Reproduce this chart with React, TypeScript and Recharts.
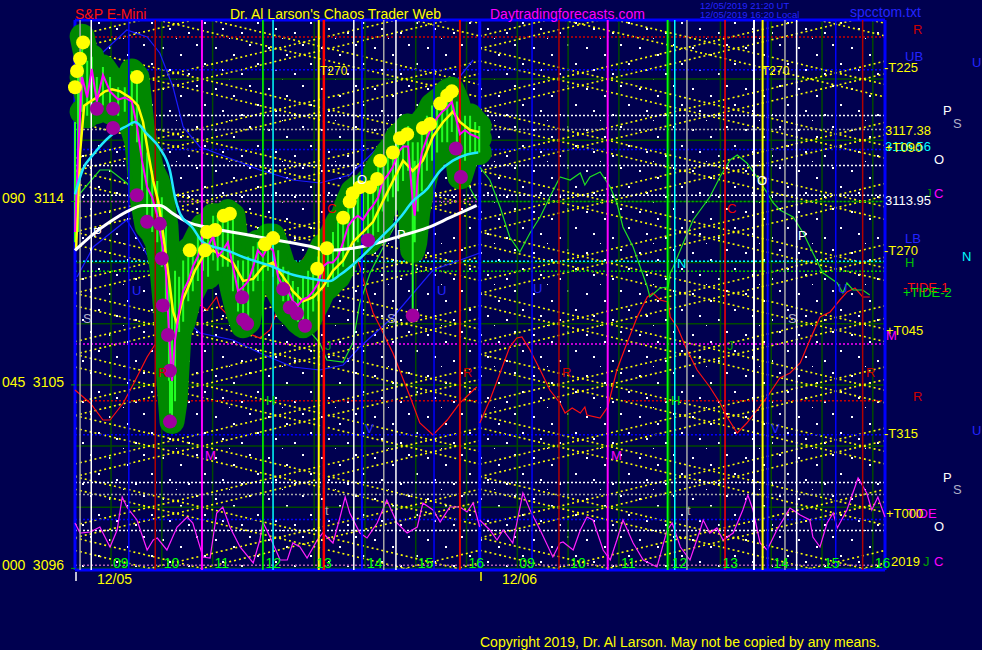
import React from 'react';
import { ComposedChart, Line, Scatter, XAxis, YAxis, ReferenceLine, CartesianGrid } from 'recharts';

// ---------- axes ----------
const xDomain = [8.29, 24.24];
const priceDomain = [3095.92, 3122.9];
const oscDomain = [0, 110];
const daySplit = 16.26;
const hourTicks = [9, 10, 11, 12, 13, 14, 15, 16, 17, 18, 19, 20, 21, 22, 23, 24];
const hourLabels = ['09', '10', '11', '12', '13', '14', '15', '16', '09', '10', '11', '12', '13', '14', '15', '16'];
const priceTicks = [3096, 3105, 3114];
const priceCodes = ['000', '045', '090'];
const gridRows = [3096, 3099, 3102, 3105, 3108, 3111, 3114, 3117, 3120];

// ---------- price bars [time, close, high, low] ----------
const priceBars = [
  [8.29, 3112.5, 3117.9, 3112.0], [8.35, 3116.4, 3120.9, 3112.5], [8.43, 3120.1, 3122.1, 3118.4],
  [8.53, 3119.1, 3120.9, 3118.2], [8.62, 3120.5, 3121.1, 3118.7], [8.72, 3118.9, 3120.1, 3118.4],
  [8.84, 3120.2, 3120.6, 3118.7], [8.98, 3119.4, 3120.1, 3118.4], [9.14, 3119.0, 3119.6, 3118.2],
  [9.27, 3119.1, 3119.6, 3118.4], [9.41, 3118.9, 3120.4, 3117.7], [9.51, 3117.7, 3120.1, 3116.9],
  [9.61, 3116.0, 3117.7, 3114.2], [9.71, 3114.7, 3116.4, 3112.8], [9.81, 3114.2, 3115.5, 3112.5],
  [9.91, 3113.3, 3115.0, 3112.0], [10.0, 3112.0, 3114.2, 3110.8], [10.08, 3110.6, 3112.8, 3108.6],
  [10.14, 3107.6, 3110.1, 3105.2], [10.2, 3105.2, 3109.1, 3103.2], [10.26, 3107.2, 3110.6, 3104.2],
  [10.34, 3108.6, 3110.3, 3107.6], [10.42, 3109.6, 3111.1, 3108.1], [10.52, 3110.1, 3111.6, 3109.1],
  [10.61, 3110.8, 3111.8, 3109.6], [10.71, 3111.3, 3112.3, 3110.1], [10.81, 3112.0, 3112.8, 3110.6],
  [10.91, 3111.8, 3112.8, 3110.3], [11.01, 3112.3, 3113.3, 3111.1], [11.1, 3111.3, 3113.3, 3110.6],
  [11.2, 3111.6, 3113.3, 3110.8], [11.3, 3112.0, 3113.5, 3110.8], [11.4, 3110.8, 3113.3, 3109.6],
  [11.5, 3109.6, 3111.1, 3108.6], [11.6, 3109.8, 3111.1, 3107.9], [11.7, 3110.1, 3111.3, 3108.1],
  [11.8, 3110.8, 3111.8, 3109.6], [11.89, 3111.6, 3112.0, 3110.1], [11.99, 3111.3, 3112.0, 3110.1],
  [12.09, 3111.8, 3112.3, 3110.6], [12.19, 3111.6, 3112.3, 3110.3], [12.29, 3110.3, 3111.6, 3109.6],
  [12.39, 3109.8, 3110.8, 3109.1], [12.49, 3109.6, 3110.6, 3108.6], [12.58, 3109.1, 3110.1, 3108.4],
  [12.68, 3108.9, 3109.8, 3108.1], [12.78, 3109.2, 3110.3, 3107.9], [12.88, 3109.3, 3110.6, 3108.1],
  [12.98, 3109.6, 3110.8, 3108.6], [13.08, 3110.0, 3111.3, 3109.1], [13.17, 3110.8, 3111.8, 3109.6],
  [13.27, 3111.0, 3112.0, 3109.8], [13.37, 3111.0, 3112.5, 3110.1], [13.47, 3111.3, 3113.0, 3110.3],
  [13.57, 3112.0, 3113.3, 3110.8], [13.67, 3112.8, 3114.0, 3111.6], [13.76, 3113.1, 3114.5, 3112.0],
  [13.86, 3113.3, 3114.7, 3112.0], [13.96, 3113.1, 3114.7, 3112.0], [14.06, 3113.5, 3115.0, 3112.0],
  [14.16, 3113.8, 3115.2, 3112.3], [14.26, 3114.2, 3115.7, 3112.5], [14.35, 3115.0, 3116.0, 3113.5],
  [14.45, 3115.3, 3116.4, 3114.0], [14.55, 3115.7, 3116.7, 3114.2], [14.65, 3116.4, 3117.2, 3114.5],
  [14.75, 3116.7, 3117.4, 3115.0], [14.85, 3116.7, 3117.7, 3115.5], [14.94, 3114.0, 3116.9, 3111.6],
  [14.98, 3113.3, 3116.0, 3112.0], [15.04, 3115.2, 3116.9, 3113.5], [15.12, 3116.4, 3117.9, 3114.5],
  [15.22, 3117.1, 3118.2, 3115.5], [15.32, 3117.7, 3118.7, 3116.0], [15.42, 3118.1, 3118.9, 3116.4],
  [15.52, 3118.4, 3119.1, 3116.9], [15.62, 3118.6, 3119.4, 3116.9], [15.71, 3118.9, 3119.5, 3117.4],
  [15.81, 3117.9, 3118.9, 3116.4], [15.87, 3117.3, 3118.4, 3115.2], [15.97, 3117.5, 3118.2, 3116.0],
  [16.07, 3117.3, 3118.2, 3116.4], [16.17, 3117.2, 3117.9, 3116.4], [16.25, 3117.1, 3117.7, 3116.4],
];
// long thin wicks [time, top, bottom]
const longWicks = [[14.94, 3111.6, 3108.4], [10.16, 3105.2, 3103.6]];

const smoothPrice = [
  [8.31, 3111.6], [8.39, 3116.4], [8.47, 3118.7], [8.59, 3118.9], [8.72, 3119.1], [8.88, 3119.4],
  [9.02, 3119.5], [9.18, 3119.4], [9.37, 3119.1], [9.53, 3118.7], [9.63, 3117.9], [9.73, 3116.4],
  [9.83, 3115.0], [9.93, 3114.0], [10.02, 3112.5], [10.12, 3110.6], [10.22, 3108.6], [10.3, 3108.0],
  [10.4, 3109.1], [10.52, 3109.8], [10.65, 3110.6], [10.81, 3111.3], [11.01, 3111.6], [11.2, 3111.3],
  [11.4, 3111.0], [11.6, 3110.1], [11.8, 3110.2], [11.99, 3110.8], [12.19, 3111.0], [12.39, 3110.3],
  [12.58, 3109.6], [12.78, 3109.1], [12.98, 3109.3], [13.17, 3109.8], [13.37, 3110.6], [13.57, 3111.1],
  [13.76, 3112.0], [13.96, 3112.5], [14.16, 3113.0], [14.35, 3114.0], [14.55, 3115.0], [14.75, 3116.0],
  [14.94, 3115.5], [15.14, 3116.0], [15.34, 3117.2], [15.54, 3117.9], [15.73, 3118.4], [15.87, 3117.9],
  [16.07, 3117.5], [16.25, 3117.4],
];

const cyanAvg = [
  [8.29, 3114.35], [8.45, 3115.6], [8.65, 3116.3], [8.98, 3117.2], [9.31, 3117.7], [9.47, 3117.9],
  [9.71, 3117.3], [9.96, 3116.6], [10.16, 3115.5], [10.26, 3114.2], [10.36, 3113.4], [10.61, 3112.7],
  [10.81, 3112.0], [11.28, 3111.6], [11.68, 3111.2], [12.07, 3110.9], [12.58, 3110.4], [12.98, 3110.2],
  [13.31, 3110.1], [13.51, 3110.4], [13.9, 3111.2], [14.3, 3112.2], [14.69, 3113.2], [14.94, 3114.0],
  [15.22, 3114.6], [15.48, 3115.5], [15.73, 3116.0], [16.01, 3116.3], [16.23, 3116.4],
];

const whiteAvg = [
  [8.29, 3111.6], [8.65, 3112.4], [8.98, 3113.0], [9.31, 3113.5], [9.63, 3113.8], [9.96, 3113.8],
  [10.22, 3113.4], [10.5, 3113.0], [10.95, 3112.7], [11.6, 3112.4], [12.27, 3112.1], [12.92, 3111.8],
  [13.25, 3111.6], [13.76, 3111.7], [14.16, 3111.9], [14.69, 3112.3], [15.22, 3112.7], [15.67, 3113.2],
  [16.2, 3113.8],
];

const yellowDots = [
  [8.45, 3121.8], [8.39, 3121.0], [8.33, 3120.4], [8.29, 3119.6], [9.51, 3120.1], [10.55, 3111.6],
  [10.85, 3111.6], [10.89, 3112.5], [11.05, 3112.6], [11.34, 3113.4], [11.22, 3113.3], [12.03, 3111.9],
  [12.19, 3112.2], [13.06, 3110.7], [13.25, 3111.7], [13.57, 3113.2], [13.7, 3114.0], [13.76, 3114.4],
  [13.9, 3114.7], [14.1, 3114.7], [14.24, 3115.1], [14.3, 3116.0], [14.55, 3116.4], [14.69, 3117.1],
  [14.83, 3117.3], [15.14, 3117.6], [15.28, 3117.8], [15.48, 3118.8], [15.62, 3119.2], [15.71, 3119.4],
];

const purpleDots = [
  [8.72, 3118.55], [9.04, 3118.55], [9.04, 3117.6], [9.51, 3114.3], [9.71, 3113.0], [9.96, 3112.9],
  [10.0, 3111.2], [10.02, 3108.9], [10.12, 3107.45], [10.16, 3105.7], [10.16, 3103.2], [11.58, 3109.3],
  [11.6, 3108.2], [11.68, 3108.0], [12.39, 3109.7], [12.52, 3108.8], [12.66, 3108.5], [12.82, 3107.9],
  [14.06, 3112.1], [14.94, 3108.4], [15.79, 3116.6], [15.89, 3115.2],
];

// ---------- oscillators (0-110 units) ----------
const greenOsc1 = [
  [8.33, 74.6], [8.78, 80], [8.98, 80], [9.31, 77.4], [9.67, 73], [10.06, 66], [10.46, 62], [10.95, 60],
  [11.54, 58], [12.13, 56], [12.72, 50], [13.11, 45.4], [13.25, 42], [13.57, 41.6], [13.76, 45.4],
  [13.9, 53.4], [14.1, 59.4], [14.43, 66], [14.69, 70.6], [15.08, 77], [15.42, 82.6], [15.73, 80.6],
  [16.01, 77.4], [16.2, 74],
];
const greenOsc2 = [
  [16.26, 80.6], [16.46, 78], [16.66, 72.6], [16.85, 66.6], [17.05, 63.6], [17.25, 67.4], [17.45, 70.6],
  [17.64, 74.6], [17.84, 78.6], [18.04, 78], [18.24, 79.4], [18.33, 77], [18.43, 78.6], [18.63, 79.6],
  [18.83, 76.6], [18.96, 73.4], [19.08, 68.6], [19.28, 64.6], [19.42, 60.6], [19.56, 56.6], [19.61, 54.6],
  [19.81, 56.4], [19.97, 56.6], [20.01, 59.4], [20.07, 60.6], [20.21, 64], [20.46, 70], [20.79, 74.6],
  [20.99, 78.6], [21.19, 82], [21.33, 83], [21.52, 81.4], [21.72, 78.6], [21.92, 75.4], [22.04, 73.4],
  [22.17, 72], [22.43, 70.6], [22.63, 67.4], [22.82, 63.4], [23.02, 59.4], [23.3, 57.4], [23.41, 55.4],
  [23.49, 57.4], [23.61, 56], [23.8, 56], [23.94, 55],
];
const redOsc1 = [
  [8.29, 36], [8.59, 33.4], [8.84, 30], [8.98, 30], [9.24, 33.4], [9.43, 37], [9.71, 42.6], [9.96, 46.6],
  [10.22, 50], [10.5, 52.6], [10.75, 53], [10.89, 52], [11.08, 54.6], [11.14, 52.6], [11.4, 50],
  [11.68, 47.4], [11.93, 46.4], [12.13, 48], [12.33, 53.6], [12.58, 58], [12.72, 61.4], [13.11, 66.6],
  [13.37, 68.4], [13.57, 68.2], [13.76, 64.6], [13.9, 60.6], [14.04, 55.4], [14.16, 51.4], [14.3, 48.6],
  [14.55, 43.4], [14.89, 34.6], [15.08, 29.4], [15.34, 27], [15.62, 30], [15.87, 33.4], [16.2, 36.6],
];
const redOsc2 = [
  [16.26, 29.4], [16.46, 34], [16.66, 39.4], [16.85, 44.6], [16.99, 46.4], [17.09, 46.6], [17.25, 44],
  [17.45, 40], [17.64, 36], [17.84, 33.4], [17.94, 31.4], [18.08, 32.4], [18.24, 31.4], [18.33, 32.6],
  [18.37, 31], [18.63, 30.4], [18.78, 32.6], [18.96, 40], [19.16, 45.4], [19.36, 50.6], [19.56, 54.6],
  [19.67, 55.4], [19.81, 54], [19.97, 53.6], [20.01, 50.6], [20.15, 48.6], [20.34, 44], [20.54, 40],
  [20.79, 36.6], [20.99, 33.4], [21.13, 30.6], [21.33, 27.4], [21.52, 29.4], [21.72, 32], [21.92, 34.6],
  [22.17, 38.4], [22.37, 39.4], [22.57, 41.4], [22.76, 46], [22.96, 50.6], [23.16, 51.6], [23.35, 54],
  [23.49, 55.6], [23.65, 56.4], [23.8, 54.6], [23.94, 54.6],
];
const blueUpper = [
  [8.78, 103], [9.31, 108], [9.71, 106.6], [9.96, 103.4], [10.22, 96.6], [10.42, 88.6], [10.75, 84.6],
  [11.28, 82.6], [11.93, 80], [12.58, 78], [13.11, 77.4], [13.7, 79], [14.35, 85.4], [15.34, 92], [16.13, 102],
];
const blueLower = [
  [8.33, 58.6], [8.65, 64.6], [9.31, 70], [9.77, 62], [10.26, 52], [10.75, 47.4], [11.4, 46], [11.93, 43.4],
  [12.58, 40.6], [13.11, 40], [13.57, 41], [13.9, 44.6], [14.55, 50.6], [15.34, 60], [16.26, 63.4],
];
const tideOsc1 = [
  [8.29, 9.4], [8.39, 7.4], [8.59, 7.6], [8.78, 8.6], [8.98, 4.6], [9.12, 8], [9.22, 14.6], [9.31, 12.6],
  [9.51, 10], [9.71, 4], [9.83, 6], [9.91, 6.4], [10.1, 4], [10.3, 8.6], [10.5, 10.6], [10.61, 9.4],
  [10.81, 2.6], [10.95, 2.4], [11.08, 11.4], [11.2, 12.6], [11.34, 8.6], [11.54, 4.6], [11.8, 1.4],
  [11.93, 6], [11.99, 9.6], [12.13, 6.6], [12.33, 2], [12.47, 2], [12.58, 5.4], [12.72, 4.6], [12.86, 2.4],
  [13.06, 6], [13.17, 7.4], [13.37, 5.4], [13.51, 10.6], [13.61, 14.6], [13.7, 11.4], [13.9, 7.4],
  [14.04, 6.4], [14.24, 9.4], [14.43, 14], [14.63, 9.4], [14.83, 7.4], [15.03, 8.6], [15.14, 13.4],
  [15.34, 12], [15.48, 9.6], [15.67, 12.6], [15.87, 12.6], [16.01, 11.6], [16.13, 13.4], [16.26, 8.6],
];
const tideOsc2 = [
  [16.26, 10], [16.46, 8], [16.6, 6], [16.72, 8], [16.91, 5.4], [17.11, 15.4], [17.25, 12], [17.45, 8],
  [17.7, 2.6], [17.84, 5.4], [17.9, 5.6], [18.1, 4], [18.24, 8], [18.37, 10.6], [18.49, 10], [18.69, 4],
  [18.83, 2], [18.96, 6], [19.08, 10], [19.28, 5.4], [19.48, 2], [19.75, 0.6], [19.95, 8], [20.05, 9.4],
  [20.21, 4.6], [20.4, 2], [20.6, 8], [20.66, 10], [20.79, 7.4], [20.93, 8.4], [21.05, 6], [21.25, 7.4],
  [21.44, 12], [21.54, 15], [21.64, 12], [21.78, 5.4], [21.92, 4], [22.11, 8], [22.37, 12.4], [22.57, 11],
  [22.76, 10], [22.82, 6.6], [22.96, 4.6], [23.1, 9.4], [23.22, 11.4], [23.3, 8.4], [23.49, 12],
  [23.71, 18.4], [23.88, 15.4], [23.98, 12], [24.1, 14.6], [24.24, 10.6],
];

// ---------- reference lines ----------
const verticalLines = [
  [8.39, '#a8a8a8', 1.5], [8.61, '#ffffff', 1.5], [9.35, '#0000ff', 1.5], [9.87, '#b00000', 1.5],
  [10.79, '#ff00ff', 2], [11.99, '#00ff00', 1.5], [12.19, '#00ffff', 1.5], [13.09, '#ffff00', 2],
  [13.19, '#ff0000', 2.5], [13.78, '#ffffff', 1.5], [13.94, '#0000ff', 2], [14.37, '#a8a8a8', 1.5],
  [14.61, '#ffffff', 1.5], [15.36, '#0000ff', 1.5], [15.87, '#dd0000', 2],
  [17.29, '#0000ff', 1.5], [17.82, '#b00000', 1.5], [18.78, '#ff00ff', 2], [19.96, '#00ff00', 2],
  [20.1, '#00ffff', 1.5], [20.34, '#a8a8a8', 1.5], [21.09, '#ff0000', 1.5], [21.66, '#ffffff', 2],
  [21.83, '#ffff00', 2], [21.93, '#0000ff', 2], [22.27, '#a8a8a8', 1.5], [22.5, '#ffffff', 1.5],
  [23.27, '#0000ff', 1.5], [23.8, '#b00000', 1.5],
];
const levelLines = [
  [3122.07, '#cc0000'], [3120.46, '#0000ff'], [3118.21, '#ffffff'], [3117.53, '#a8a8a8'],
  [3116.55, '#0000ff'], [3115.76, '#ffffff'], [3114.3, '#ffffff'], [3111.07, '#00ffff'],
  [3110.58, '#00d000'], [3107.01, '#ff00ff'], [3102.56, '#0000ff'], [3100.21, '#ffffff'],
  [3099.62, '#a8a8a8'], [3098.4, '#0000ff'], [3097.86, '#ffffff'], [3096.15, '#b060b0'],
];
const levelSegments = [
  [3114.0, 8.29, 16.26, '#c040c0'], [3114.0, 16.26, 24.24, '#00b000'],
  [3104.22, 8.29, 16.26, '#cc0000'], [3104.22, 19.1, 24.24, '#cc0000'],
];

// lattice of time/price angle lines: crossing time, day box start, day box end
const latticeCenters = [
  [10.79, 8.29, 16.26], [18.78, 16.26, 24.24], [9.76, 8.29, 16.26], [17.75, 16.26, 24.24],
];
const latticeRowBase = 3096;
const latticeRowStep = 3;
const latticeSpan = 5.02;

function clipSeg(a, pa, b, pb, lo, hi) {
  if ((pa < lo && pb < lo) || (pa > hi && pb > hi)) return null;
  const f = (p) => a + ((p - pa) / (pb - pa)) * (b - a);
  let t0 = a, p0 = pa, t1 = b, p1 = pb;
  if (p0 < lo) { t0 = f(lo); p0 = lo; } else if (p0 > hi) { t0 = f(hi); p0 = hi; }
  if (p1 < lo) { t1 = f(lo); p1 = lo; } else if (p1 > hi) { t1 = f(hi); p1 = hi; }
  return [{ x: t0, y: p0 }, { x: t1, y: p1 }];
}

function buildLattice() {
  const segs = [];
  const s = latticeRowStep / latticeSpan;
  for (const [c, a, b] of latticeCenters) {
    for (let k = -3; k <= 12; k++) {
      const r = latticeRowBase + k * latticeRowStep;
      for (const dir of [1, -1]) {
        const seg = clipSeg(a, r + dir * s * (a - c), b, r + dir * s * (b - c), priceDomain[0], priceDomain[1]);
        if (seg) segs.push(seg);
      }
    }
  }
  return segs;
}

const pts = (arr) => arr.map(([t, v]) => ({ t, v }));

const FONT = '"Liberation Sans", Arial, sans-serif';

function HourTick(props) {
  const i = hourTicks.indexOf(props.payload.value);
  return (
    <text x={props.x + 2} y={props.y - 2} fill="#00ff00" fontSize={14} fontFamily={FONT}>
      {hourLabels[i]}
    </text>
  );
}

function PriceTick(props) {
  const i = priceTicks.indexOf(props.payload.value);
  return (
    <g>
      <text x={2} y={props.y + 2} fill="#ffff00" fontSize={14} fontFamily={FONT}>{priceCodes[i]}</text>
      <text x={64} y={props.y + 2} fill="#ffff00" fontSize={14} fontFamily={FONT} textAnchor="end">
        {String(props.payload.value)}
      </text>
    </g>
  );
}

const L = (x, y, s, c, size = 13) => (
  <text key={`${x}-${y}-${s}-${c}`} x={x} y={y} fill={c} fontSize={size} fontFamily={FONT}>{s}</text>
);

const BLOB = '#008800';

export default function App() {
  const lattice = buildLattice();
  const blobBars = priceBars.slice(2);
  const blobHigh = blobBars.map(([t, , h]) => ({ t, v: h }));
  const blobClose = blobBars.map(([t, c]) => ({ t, v: c }));
  const blobLow = blobBars.map(([t, , , l]) => ({ t, v: l }));
  const wickPts = [];
  priceBars.forEach(([t, , h, l]) => {
    wickPts.push({ t, v: h }, { t, v: l }, { t, v: null });
  });
  longWicks.forEach(([t, top, bottom]) => {
    wickPts.push({ t, v: top }, { t, v: bottom }, { t, v: null });
  });
  const closePts = priceBars.map(([t, c]) => ({ t, v: c }));

  const BLUE = '#2424ff';
  const blobLine = (data, key) => (
    <Line key={key} data={data} dataKey="v" stroke={BLOB} strokeWidth={25} strokeLinecap="round"
      strokeLinejoin="round" dot={false} activeDot={false} isAnimationActive={false} />
  );
  return (
    <div style={{ position: 'absolute', left: 0, top: 0, width: 982, height: 650, background: '#000050', overflow: 'hidden' }}>
      <ComposedChart width={982} height={650} margin={{ top: 20, right: 97, bottom: 0, left: 0 }}>
        <defs>
          <pattern id="stars" width="53" height="41" patternUnits="userSpaceOnUse">
            <rect x="3" y="6" width="2" height="2" fill="#ffffff" />
            <rect x="21" y="13" width="2" height="2" fill="#ffffff" />
            <rect x="37" y="3" width="2" height="2" fill="#ffffff" />
            <rect x="10" y="28" width="2" height="2" fill="#ffffff" />
            <rect x="29" y="32" width="2" height="2" fill="#ffffff" />
            <rect x="45" y="22" width="2" height="2" fill="#ffffff" />
            <rect x="17" y="38" width="1" height="1" fill="#ffffff" />
          </pattern>
        </defs>
        <CartesianGrid fill="url(#stars)" horizontal={false} vertical={false} />
        <XAxis type="number" dataKey="t" domain={xDomain} ticks={hourTicks} interval={0} height={80}
          tick={(p) => <HourTick {...p} />} tickLine={false} axisLine={false} tickSize={0} tickMargin={0} />
        <YAxis type="number" domain={priceDomain} ticks={priceTicks} interval={0} width={75}
          tick={(p) => <PriceTick {...p} />} tickLine={{ stroke: '#00a000' }} tickSize={4} axisLine={false} />
        <YAxis yAxisId="osc" type="number" domain={oscDomain} hide />

        {hourTicks.map((h) => (
          <ReferenceLine key={`hg${h}`} x={h} stroke="#004a00" strokeWidth={1.5} ifOverflow="visible" />
        ))}
        {gridRows.map((r) => (
          <ReferenceLine key={`gr${r}`} y={r} stroke="#004a00" strokeWidth={1.5} />
        ))}
        {lattice.map((seg, i) => (
          <ReferenceLine key={`lat${i}`} segment={seg} stroke="#ffff00" strokeWidth={1.6} strokeDasharray="2 3" ifOverflow="visible" />
        ))}
        {levelLines.map(([p, c]) => (
          <ReferenceLine key={`lv${p}`} y={p} stroke={c} strokeWidth={1.5} strokeDasharray="2 2" />
        ))}
        {levelSegments.map(([p, a, b, c], i) => (
          <ReferenceLine key={`ls${i}`} segment={[{ x: a, y: p }, { x: b, y: p }]} stroke={c} strokeWidth={1.5} strokeDasharray="2 2" ifOverflow="visible" />
        ))}
        <ReferenceLine x={xDomain[0]} stroke="#0000ff" strokeWidth={3} />
        <ReferenceLine x={daySplit} stroke="#0000ff" strokeWidth={3} />
        <ReferenceLine x={xDomain[1]} stroke="#0000ff" strokeWidth={3} />
        <ReferenceLine y={priceDomain[0]} stroke="#0000ff" strokeWidth={3} />
        <ReferenceLine y={priceDomain[1]} stroke="#0000ff" strokeWidth={3} />

        <Line yAxisId="osc" data={pts(blueUpper)} dataKey="v" stroke="#1a1aff" strokeWidth={1.2} dot={false} isAnimationActive={false} />
        <Line yAxisId="osc" data={pts(blueLower)} dataKey="v" stroke="#1a1aff" strokeWidth={1.2} dot={false} isAnimationActive={false} />
        <Line yAxisId="osc" data={pts(redOsc1)} dataKey="v" stroke="#ff1010" strokeWidth={1.2} dot={false} isAnimationActive={false} />
        <Line yAxisId="osc" data={pts(redOsc2)} dataKey="v" stroke="#ff1010" strokeWidth={1.2} dot={false} isAnimationActive={false} />
        <Line yAxisId="osc" data={pts(greenOsc1)} dataKey="v" stroke="#20e020" strokeWidth={1.2} dot={false} isAnimationActive={false} />
        <Line yAxisId="osc" data={pts(greenOsc2)} dataKey="v" stroke="#20e020" strokeWidth={1.2} dot={false} isAnimationActive={false} />
        <Line yAxisId="osc" data={pts(tideOsc1)} dataKey="v" stroke="#ff20ff" strokeWidth={1.2} dot={false} isAnimationActive={false} />
        <Line yAxisId="osc" data={pts(tideOsc2)} dataKey="v" stroke="#ff20ff" strokeWidth={1.2} dot={false} isAnimationActive={false} />

        {blobLine(blobHigh, 'bh')}
        {blobLine(blobLow, 'bl')}
        {blobLine(blobClose, 'bc')}
        <Line data={wickPts} dataKey="v" stroke="#22ff22" strokeWidth={2} dot={false} activeDot={false}
          connectNulls={false} isAnimationActive={false} />

        {verticalLines.map(([t, c, w]) => (
          <Line key={`vl${t}`} data={[{ t, v: priceDomain[0] }, { t, v: priceDomain[1] }]} dataKey="v"
            stroke={c} strokeWidth={w} dot={false} activeDot={false} isAnimationActive={false} />
        ))}

        <Line data={pts(smoothPrice)} dataKey="v" stroke="#ffff00" strokeWidth={2.5} dot={false} isAnimationActive={false} />
        <Line data={closePts} dataKey="v" stroke="#ff00ff" strokeWidth={2} dot={false} isAnimationActive={false} />
        <Line data={pts(whiteAvg)} dataKey="v" stroke="#ffffff" strokeWidth={3} dot={false} isAnimationActive={false} type="monotone" />
        <Line data={pts(cyanAvg)} dataKey="v" stroke="#20e8ff" strokeWidth={2.5} dot={false} isAnimationActive={false} type="monotone" />

        <Scatter data={pts(yellowDots)} dataKey="v" isAnimationActive={false}
          shape={(p) => <circle cx={p.cx} cy={p.cy} r={7} fill="#ffff00" />} />
        <Scatter data={pts(purpleDots)} dataKey="v" isAnimationActive={false}
          shape={(p) => <circle cx={p.cx} cy={p.cy} r={7} fill="#a000a0" />} />
      </ComposedChart>

      <svg width={982} height={650} style={{ position: 'absolute', left: 0, top: 0, pointerEvents: 'none' }}>
        {L(75, 19, 'S&P E-Mini', '#ff1010', 14)}
        {L(230, 19, "Dr. Al Larson's Chaos Trader Web", '#ffff00', 14)}
        {L(490, 19, 'Daytradingforecasts.com', '#ff00ff', 14)}
        {L(700, 9, '12/05/2019 21:20 UT', BLUE, 9.5)}
        {L(700, 18, '12/05/2019 16:20 Local', BLUE, 9.5)}
        {L(850, 17, 'spcctom.txt', BLUE, 14)}
        {L(97, 584, '12/05', '#ffff00', 14)}
        {L(502, 584, '12/06', '#ffff00', 14)}
        {L(480, 647, 'Copyright 2019, Dr. Al Larson. May not be copied by any means.', '#ffff00', 14)}
        <line x1={76} y1={572} x2={76} y2={581} stroke="#ffffff" strokeWidth={1.5} />
        <line x1={481} y1={572} x2={481} y2={581} stroke="#ffff00" strokeWidth={1.5} />

        {L(913, 34, 'R', '#cc0000')}
        {L(905, 61, 'UB', BLUE)}
        {L(972, 67, 'U', BLUE)}
        {L(884, 72, '-T225', '#ffff00')}
        {L(943, 115, 'P', '#ffffff')}
        {L(953, 128, 'S', '#b0b0c8')}
        {L(885, 135, '3117.38', '#ffff00')}
        {L(885, 151, '3116.56', '#00ffff')}
        {L(885, 152, '+T090', '#ffff00')}
        {L(934, 164, 'O', '#ffffff')}
        {L(926, 197, 'J', '#00a000', 11)}
        {L(934, 198, 'C', '#ff00ff')}
        {L(885, 205, '3113.95', '#ffffff')}
        {L(905, 243, 'LB', BLUE)}
        {L(884, 255, '-T270', '#ffff00')}
        {L(962, 261, 'N', '#00ffff')}
        {L(905, 267, 'H', '#00c000')}
        {L(903, 292, '-TIDE-1', '#ff1010')}
        {L(903, 297, '+TIDE-2', '#00e000')}
        {L(886, 335, '+T045', '#ffff00')}
        {L(886, 340, 'M', '#ff00ff')}
        {L(866, 377, 'R', '#cc0000')}
        {L(913, 401, 'R', '#cc0000')}
        {L(884, 438, '-T315', '#ffff00')}
        {L(972, 435, 'U', BLUE)}
        {L(943, 482, 'P', '#ffffff')}
        {L(953, 494, 'S', '#b0b0c8')}
        {L(907, 518, 'TIDE', '#ff00ff')}
        {L(886, 518, '+T000', '#ffff00')}
        {L(934, 531, 'O', '#ffffff')}
        {L(891, 566, '2019', '#ffff00')}
        {L(923, 566, 'J', '#00a000')}
        {L(934, 566, 'C', '#ff00ff')}

        {L(132, 295, 'U', BLUE)}
        {L(437, 295, 'U', BLUE)}
        {L(533, 293, 'U', BLUE)}
        {L(838, 293, 'U', BLUE)}
        {L(83, 323, 'S', '#b0b0c8')}
        {L(387, 323, 'S', '#b0b0c8')}
        {L(788, 323, 'S', '#b0b0c8')}
        {L(158, 377, 'R', '#cc0000')}
        {L(463, 377, 'R', '#cc0000')}
        {L(562, 377, 'R', '#cc0000')}
        {L(266, 405, 'H', '#00e000')}
        {L(671, 405, 'H', '#00e000')}
        {L(205, 460, 'M', '#ff00ff')}
        {L(611, 460, 'M', '#ff00ff')}
        {L(365, 433, 'V', BLUE)}
        {L(771, 433, 'V', BLUE)}
        {L(325, 515, 't', '#a8a8a8')}
        {L(687, 515, 't', '#a8a8a8')}
        {L(357, 184, 'O', '#ffffff')}
        {L(757, 185, 'O', '#ffffff')}
        {L(327, 213, 'C', '#ee0000')}
        {L(727, 213, 'C', '#ee0000')}
        {L(93, 237, 'P', '#ffffff')}
        {L(397, 239, 'P', '#ffffff')}
        {L(798, 240, 'P', '#ffffff')}
        {L(325, 350, 'J', '#00a000')}
        {L(727, 350, 'J', '#00a000')}
        {L(677, 268, 'N', '#00ffff')}
        {L(320, 75, 'T270', '#ffff00', 12)}
        {L(762, 75, 'T270', '#ffff00', 12)}
      </svg>
    </div>
  );
}
